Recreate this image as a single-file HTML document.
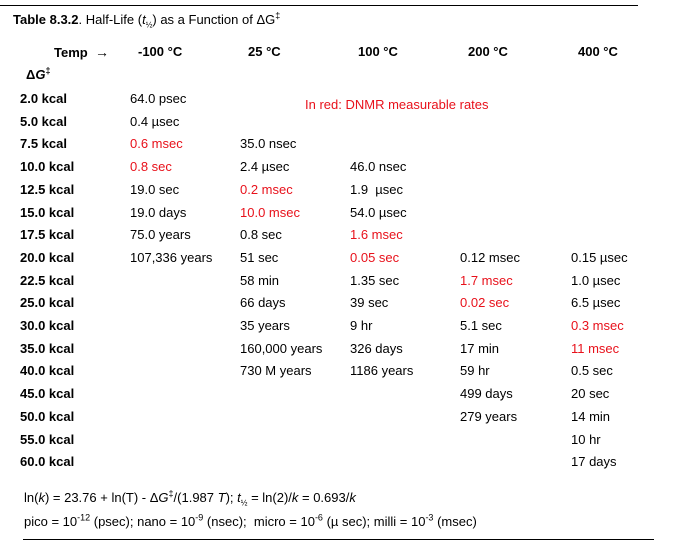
<!DOCTYPE html>
<html><head><meta charset="utf-8"><style>
body{margin:0;width:686px;height:546px;background:#fff;position:relative;font-family:"Liberation Sans",Arial,sans-serif;font-size:13px;color:#000;overflow:hidden}
.t{position:absolute;white-space:nowrap;line-height:16px}
.b{font-weight:bold}
.r{color:#e8111b}
sup{font-size:9px;line-height:0}
.hr{position:absolute;height:1px;background:#000}
</style></head><body>
<div class="hr" style="left:0;top:5px;width:638px"></div>
<div class="t" style="left:13px;top:12px"><b>Table 8.3.2</b>. Half-Life (<i>t</i><sub style="font-size:8px">½</sub>) as a Function of ΔG<sup>‡</sup></div>
<div class="t b" style="left:54px;top:44px">Temp &nbsp;<span style="font-weight:normal;font-size:14px">→</span></div>
<div class="t b" style="left:138px;top:44px">-100 °C</div>
<div class="t b" style="left:248px;top:44px">25 °C</div>
<div class="t b" style="left:358px;top:44px">100 °C</div>
<div class="t b" style="left:468px;top:44px">200 °C</div>
<div class="t b" style="left:578px;top:44px">400 °C</div>
<div class="t b" style="left:26px;top:67px">Δ<i>G</i><sup>‡</sup></div>
<div class="t r" style="left:305px;top:97px">In red: DNMR measurable rates</div>
<div id="rows"></div>
<div class="t" style="left:24px;top:490px">ln(<i>k</i>) = 23.76 + ln(T) - Δ<i>G</i><sup>‡</sup>/(1.987 <i>T</i>); <i>t</i><sub style="font-size:8px">½</sub> = ln(2)/<i>k</i> = 0.693/<i>k</i></div>
<div class="t" style="left:24px;top:514px">pico = 10<sup>-12</sup> (psec); nano = 10<sup>-9</sup> (nsec);&nbsp; micro = 10<sup>-6</sup> (µ sec); milli = 10<sup>-3</sup> (msec)</div>
<div class="hr" style="left:23px;top:539px;width:631px"></div>
<script>
const labels=["2.0 kcal","5.0 kcal","7.5 kcal","10.0 kcal","12.5 kcal","15.0 kcal","17.5 kcal","20.0 kcal","22.5 kcal","25.0 kcal","30.0 kcal","35.0 kcal","40.0 kcal","45.0 kcal","50.0 kcal","55.0 kcal","60.0 kcal"];
const colM100=["64.0 psec","0.4 µsec","*0.6 msec","*0.8 sec","19.0 sec","19.0 days","75.0 years","107,336 years","","","","","","","","",""];
const col25=["","","35.0 nsec","2.4 µsec","*0.2 msec","*10.0 msec","0.8 sec","51 sec","58 min","66 days","35 years","160,000 years","730 M years","","","",""];
const col100=["","","","46.0 nsec","1.9 &nbsp;µsec","54.0 µsec","*1.6 msec","*0.05 sec","1.35 sec","39 sec","9 hr","326 days","1186 years","","","",""];
const col200=["","","","","","","","0.12 msec","*1.7 msec","*0.02 sec","5.1 sec","17 min","59 hr","499 days","279 years","",""];
const col400=["","","","","","","","0.15 µsec","1.0 µsec","6.5 µsec","*0.3 msec","*11 msec","0.5 sec","20 sec","14 min","10 hr","17 days"];
const cont=document.getElementById('rows');
const cols=[colM100,col25,col100,col200,col400];
const xs=[130,240,350,460,571];
labels.forEach((l,i)=>{
  const y=91+i*22.7;
  const d=document.createElement('div');
  d.className='t b';d.style.left='20px';d.style.top=y+'px';d.textContent=l;
  
  
  cont.appendChild(d);
  cols.forEach((c,j)=>{
    let v=c[i]; if(!v) return;
    const e=document.createElement('div');
    e.className='t';
    if(v[0]==='*'){v=v.slice(1);e.classList.add('r');}
    e.style.left=xs[j]+'px';e.style.top=y+'px';e.innerHTML=v;
    
    
    cont.appendChild(e);
  });
});
</script>
</body></html>
